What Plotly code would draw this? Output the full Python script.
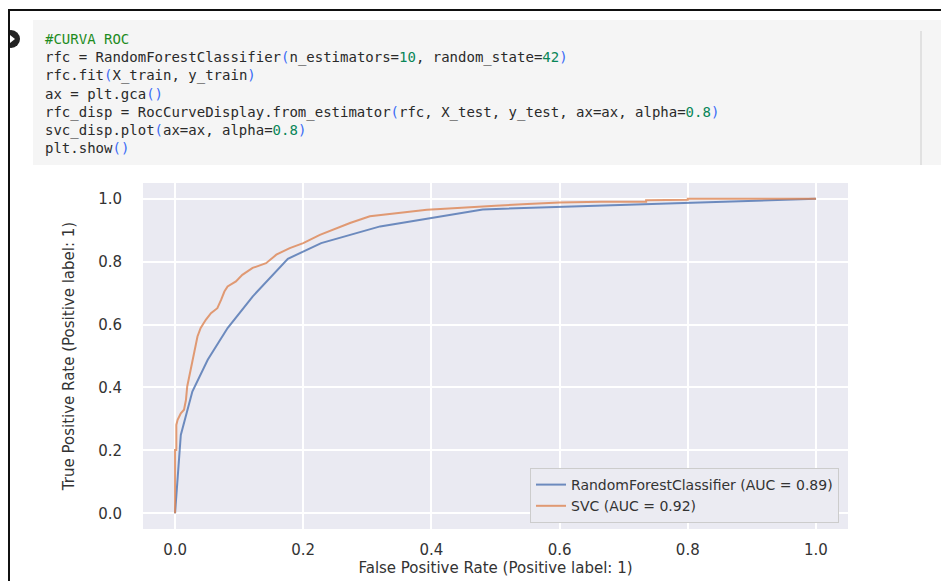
import re
import plotly.graph_objects as go

# ---------------- data ----------------
rf_fpr = [0.0, 0.002, 0.009, 0.027, 0.051, 0.082, 0.121, 0.176, 0.228, 0.320, 0.480, 1.0]
rf_tpr = [0.0, 0.06, 0.249, 0.387, 0.488, 0.589, 0.689, 0.809, 0.859, 0.912, 0.966, 1.0]

svc_fpr = [0.0, 0.0, 0.002, 0.002, 0.004, 0.009, 0.014, 0.017, 0.019, 0.022, 0.026, 0.028,
           0.032, 0.035, 0.040, 0.048, 0.056, 0.066, 0.072, 0.077, 0.082, 0.095, 0.105,
           0.121, 0.142, 0.158, 0.179, 0.200, 0.226, 0.247, 0.273, 0.304, 0.351, 0.393,
           0.414, 0.45, 0.50, 0.55, 0.60, 0.665, 0.735, 0.735, 0.755, 0.755, 0.80, 0.80, 1.0]
svc_tpr = [0.0, 0.201, 0.201, 0.281, 0.297, 0.318, 0.329, 0.360, 0.403, 0.435, 0.466, 0.488,
           0.530, 0.562, 0.589, 0.615, 0.636, 0.652, 0.679, 0.705, 0.721, 0.737, 0.758,
           0.780, 0.795, 0.822, 0.843, 0.859, 0.885, 0.901, 0.923, 0.944, 0.954, 0.965,
           0.967, 0.972, 0.978, 0.983, 0.988, 0.990, 0.990, 0.995, 0.995, 0.997, 0.997, 1.0, 1.0]

series_names = ["RandomForestClassifier (AUC = 0.89)", "SVC (AUC = 0.92)"]
tick_vals = [0.0, 0.2, 0.4, 0.6, 0.8, 1.0]
tick_text = ["0.0", "0.2", "0.4", "0.6", "0.8", "1.0"]
x_title = "False Positive Rate (Positive label: 1)"
y_title = "True Positive Rate (Positive label: 1)"

code_lines = [
    "#CURVA ROC",
    "rfc = RandomForestClassifier(n_estimators=10, random_state=42)",
    "rfc.fit(X_train, y_train)",
    "ax = plt.gca()",
    "rfc_disp = RocCurveDisplay.from_estimator(rfc, X_test, y_test, ax=ax, alpha=0.8)",
    "svc_disp.plot(ax=ax, alpha=0.8)",
    "plt.show()",
]

# ---------------- layout geometry (page pixels) ----------------
PAGE_W, PAGE_H = 949, 581
OFF = 8                      # default body margin of the html page
W, H = PAGE_W - OFF, PAGE_H - OFF
L, R, T, B = 143, 848, 183, 529   # plot area in page pixels
PW, PH = R - L, B - T


def px(x):
    return (x - L) / PW


def py(y):
    return (B - y) / PH


FONT = "DejaVu Sans"
MONO = "DejaVu Sans Mono"
TXT = "#333333"

fig = go.Figure()
fig.add_trace(go.Scatter(x=rf_fpr, y=rf_tpr, mode="lines", name=series_names[0],
                         line=dict(color="rgba(76,114,176,0.8)", width=2)))
fig.add_trace(go.Scatter(x=svc_fpr, y=svc_tpr, mode="lines", name=series_names[1],
                         line=dict(color="rgba(221,132,82,0.8)", width=2)))

axis_common = dict(
    range=[-0.05, 1.05], tickvals=tick_vals, ticktext=tick_text,
    showgrid=True, gridcolor="white", gridwidth=1.5, zeroline=False,
    showline=False, ticks="", automargin=False,
    tickfont=dict(family=FONT, size=15, color=TXT),
)

fig.update_layout(
    width=W, height=H, autosize=False,
    margin=dict(l=L - OFF, r=PAGE_W - R, t=T - OFF, b=PAGE_H - B, pad=0),
    paper_bgcolor="white", plot_bgcolor="#EAEAF2",
    font=dict(family=FONT, size=15, color=TXT),
    xaxis=dict(**axis_common, ticklabelstandoff=10,
               title=dict(text=x_title, standoff=4, font=dict(family=FONT, size=15, color=TXT))),
    yaxis=dict(**axis_common, ticklabelstandoff=20,
               title=dict(text=y_title, standoff=19, font=dict(family=FONT, size=15, color=TXT))),
    legend=dict(x=px(839), y=py(523), xanchor="right", yanchor="bottom",
                bgcolor="#EBEBF2", bordercolor="#CCCCCC", borderwidth=1,
                font=dict(family=FONT, size=14, color=TXT), tracegroupgap=0),
    showlegend=True,
)

# ---------------- notebook chrome ----------------
shapes = []
shapes.append(dict(type="rect", xref="paper", yref="paper", x0=px(33), x1=px(949), y0=py(165), y1=py(20),
                   fillcolor="#F5F5F5", line=dict(width=0), layer="below"))
shapes.append(dict(type="line", xref="paper", yref="paper", x0=px(921), x1=px(921), y0=py(165), y1=py(31),
                   line=dict(color="#DADADA", width=1.5)))
# run button (cut by the left frame)
shapes.append(dict(type="circle", xref="paper", yref="paper", x0=px(2), x1=px(20), y0=py(48), y1=py(30),
                   fillcolor="#222222", line=dict(width=0)))
shapes.append(dict(type="path", xref="paper", yref="paper",
                   path=f"M {px(10)} {py(35)} L {px(15)} {py(39)} L {px(10)} {py(43)} Z",
                   fillcolor="white", line=dict(width=0)))
# screenshot frame
shapes.append(dict(type="line", xref="paper", yref="paper", x0=px(8), x1=px(949), y0=py(10), y1=py(10),
                   line=dict(color="#111111", width=2)))
shapes.append(dict(type="line", xref="paper", yref="paper", x0=px(9), x1=px(9), y0=py(9), y1=py(581),
                   line=dict(color="#111111", width=2)))
fig.update_layout(shapes=shapes)

# ---------------- code text ----------------
GREEN_COMMENT = "#1E8C1E"
NUM = "#098658"
PAREN = "#3B6CF6"
CODE_TXT = "#2a2a2a"


def colorize(line):
    if line.startswith("#"):
        return f"<span style='color:{GREEN_COMMENT}'>{line}</span>"
    out = []
    for tok in re.findall(r"\d+\.\d+|\d+|[()]|[^()\d]+", line):
        if tok in "()":
            out.append(f"<span style='color:{PAREN}'>{tok}</span>")
        elif re.fullmatch(r"\d+(\.\d+)?", tok):
            out.append(f"<span style='color:{NUM}'>{tok}</span>")
        else:
            out.append(tok)
    return "".join(out)


code_html = "<br>".join(colorize(ln) for ln in code_lines)
fig.add_annotation(text=code_html, xref="paper", yref="paper", align="left",
                   x=px(43), y=py(93), xanchor="left", yanchor="middle",
                   showarrow=False, font=dict(family=MONO, size=14, color=CODE_TXT))

fig.write_html("out.html")
